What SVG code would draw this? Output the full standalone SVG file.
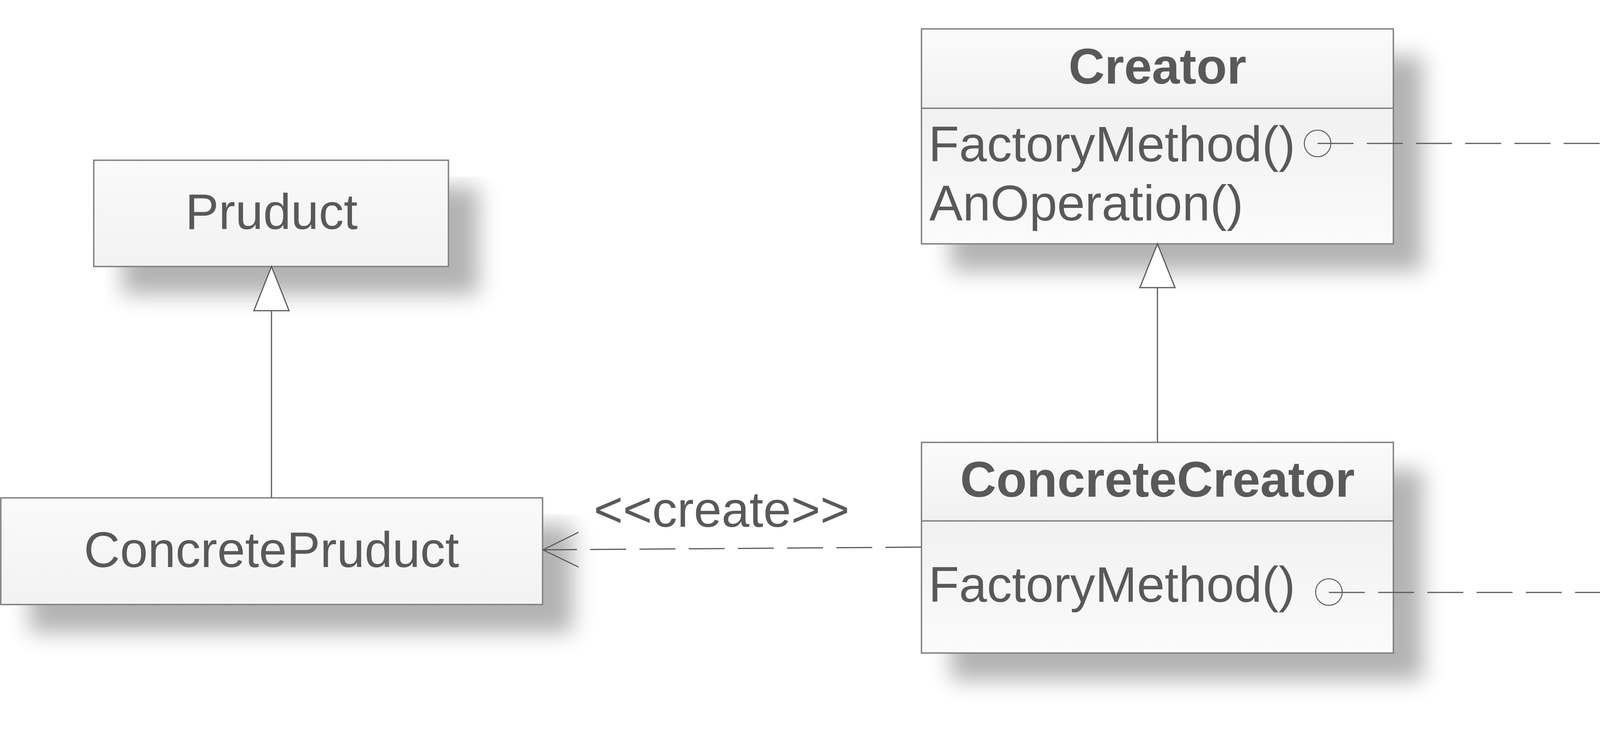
<svg xmlns="http://www.w3.org/2000/svg" width="6124" height="1868" viewBox="0 0 6124 1868">
<style>
.box{stroke:#7F7F7F;stroke-width:3.5}
.hdr{fill:url(#gHdr)}
.ops{fill:url(#gOps)}
.single{fill:url(#gSingle)}
.div{stroke:#7F7F7F;stroke-width:3.5;fill:none}
.note{fill:url(#gNote);stroke:#6F90D0;stroke-width:3.5}
.fold{fill:none;stroke:#6F90D0;stroke-width:3.5}
text{font-family:"Liberation Sans",Arial,sans-serif;font-size:128px;fill:#595959}
.b{font-weight:bold}
.c{text-anchor:middle}
.ln{stroke:#5A5A5A;stroke-width:3;fill:none}
.dash{stroke:#5A5A5A;stroke-width:3;fill:none;stroke-dasharray:92 34}
.tri{stroke:#5A5A5A;stroke-width:3;fill:#FFFFFF}
.pin{stroke:#5A5A5A;stroke-width:2.5;fill:none}
</style>
<defs>
<linearGradient id="gHdr" x1="0" y1="0" x2="0" y2="1"><stop offset="0" stop-color="#FBFBFB"/><stop offset="1" stop-color="#F1F1F1"/></linearGradient>
<linearGradient id="gOps" x1="0" y1="0" x2="0" y2="1"><stop offset="0" stop-color="#F1F1F1"/><stop offset="1" stop-color="#FBFBFB"/></linearGradient>
<linearGradient id="gSingle" x1="0" y1="0" x2="0" y2="1"><stop offset="0" stop-color="#FAFAFA"/><stop offset="1" stop-color="#F2F2F2"/></linearGradient>
<linearGradient id="gNote" x1="0" y1="0" x2="0" y2="1"><stop offset="0" stop-color="#F8FBFE"/><stop offset="1" stop-color="#E9F4FE"/></linearGradient>
<filter id="sh" x="-5%" y="-10%" width="135%" height="190%">
<feGaussianBlur in="SourceAlpha" stdDeviation="28"/>
<feOffset dx="75" dy="70" result="o"/>
<feComponentTransfer><feFuncA type="linear" slope="0.3"/></feComponentTransfer>
<feMerge><feMergeNode/><feMergeNode in="SourceGraphic"/></feMerge>
</filter>
</defs>
<rect width="6124" height="1868" fill="#FFFFFF"/>

<g id="Pruduct">
<rect class="box single" x="240" y="410" width="908" height="272" filter="url(#sh)"/>
<text class="c" x="695" y="586">Pruduct</text>
</g>

<g id="ConcretePruduct">
<rect class="box single" x="2" y="1274" width="1387" height="273" filter="url(#sh)"/>
<text class="c" x="695" y="1451">ConcretePruduct</text>
</g>

<g id="Creator">
<g filter="url(#sh)">
<rect class="hdr" x="2359" y="74" width="1208" height="203"/>
<rect class="ops" x="2359" y="277" width="1208" height="347"/>
</g>
<rect class="box" x="2359" y="74" width="1208" height="550" fill="none"/>
<line class="div" x1="2359" y1="277" x2="3567" y2="277"/>
<text class="b c" x="2963" y="214">Creator</text>
<text x="2377" y="413">FactoryMethod()</text>
<text x="2379" y="564">AnOperation()</text>
<circle class="pin" cx="3373" cy="367" r="34"/>
</g>

<g id="ConcreteCreator">
<g filter="url(#sh)">
<rect class="hdr" x="2359" y="1132" width="1208" height="201"/>
<rect class="ops" x="2359" y="1333" width="1208" height="338"/>
</g>
<rect class="box" x="2359" y="1132" width="1208" height="539" fill="none"/>
<line class="div" x1="2359" y1="1333" x2="3567" y2="1333"/>
<text class="b c" x="2963" y="1271">ConcreteCreator</text>
<text x="2377" y="1540">FactoryMethod()</text>
<circle class="pin" cx="3402" cy="1515" r="34"/>
</g>

<g id="Note1">
<path class="note" d="M4129,2 H5822 L6004,182 V729 H4129 Z" filter="url(#sh)"/>
<path class="fold" d="M5822,2 V182 H6004"/>
<text x="4159" y="294">...</text>
<text x="4161" y="448">product = FactoryMethod()</text>
<text x="4159" y="599">...</text>
</g>

<g id="Note2">
<path class="note" d="M4129,1288 H5823 L6004,1469 V1747 H4129 Z" filter="url(#sh)"/>
<path class="fold" d="M5823,1288 V1469 H6004"/>
<text x="4160" y="1582" xml:space="preserve" style="white-space:pre">return new  ConcreteProduct</text>
</g>

<g id="connectors">
<line class="ln" x1="695" y1="1274" x2="695" y2="795"/>
<polygon class="tri" points="695,682 740,795 650,795"/>
<line class="ln" x1="2963" y1="1132" x2="2963" y2="736"/>
<polygon class="tri" points="2963,624 3008,736 2918,736"/>
<path class="dash" d="M2359,1400 L1390,1407"/>
<polyline class="ln" points="1481,1362 1390,1407 1481,1451"/>
<text x="1520" y="1348">&lt;&lt;create&gt;&gt;</text>
<path class="dash" d="M3373,367 H4129"/>
<path class="dash" d="M3402,1516 H4129"/>
</g>
</svg>
